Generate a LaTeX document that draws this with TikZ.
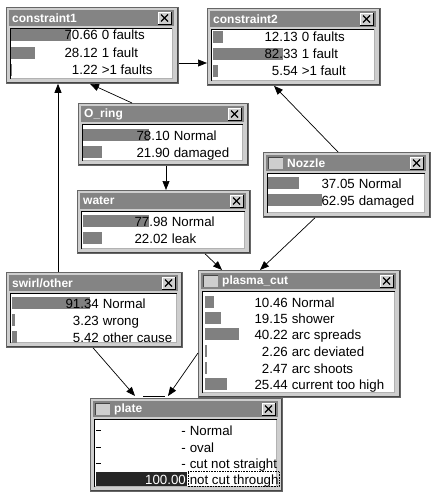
\documentclass[tikz,border=0pt]{standalone}
\usepackage{fontspec}
\setmainfont{Liberation Sans}
\usetikzlibrary{arrows.meta,calc}
\definecolor{frameg}{RGB}{206,206,206}
\definecolor{titleg}{RGB}{132,132,132}
\definecolor{barg}{RGB}{128,128,128}
\definecolor{darkedge}{RGB}{70,70,70}
\tikzset{
  conn/.style={draw=black, line width=0.7pt, -{Triangle[length=9pt,width=7pt]}},
  frame/.style={fill=frameg, draw=gray!80!black, line width=0.8pt, inner sep=0pt},
  titletext/.style={text=white, font=\fontsize{12}{13}\selectfont\bfseries, anchor=west, inner sep=0pt},
  rowtext/.style={font=\fontsize{13.3}{15}\selectfont, inner sep=0pt, text=black},
  shadeline/.style={draw=darkedge, line width=1.2pt},
}
\newcounter{rc}
\newcommand{\wbox}[7]{%
  \node[frame, anchor=north west, minimum width={#4pt-#2pt}, minimum height={#5pt-#3pt}] (#1) at (#2,#3) {};
  \draw[shadeline] (#2+1,#5-0.6) -- (#4-0.6,#5-0.6) -- (#4-0.6,#3+1);
  \fill[titleg] (#2+3,#3+3) rectangle (#4-4,#3+19);
  \ifnum#7=1
    \fill[frameg] (#2+5,#3+5) rectangle (#2+20,#3+17);
    \draw[darkedge, line width=0.8pt] (#2+5,#3+17) -- (#2+5,#3+5) -- (#2+20,#3+5);
    \node[titletext] (#1t) at (#2+24,#3+11) {#6};
  \else
    \node[titletext] (#1t) at (#2+6,#3+11) {#6};
  \fi
  \fill[frameg] (#4-20,#3+5) rectangle (#4-7,#3+17);
  \draw[white, line width=0.8pt] (#4-20,#3+17) -- (#4-20,#3+5) -- (#4-7,#3+5);
  \draw[black, line width=0.8pt] (#4-20,#3+17) -- (#4-7,#3+17) -- (#4-7,#3+5);
  \draw[black, line width=1.4pt] (#4-17,#3+7.5) -- (#4-10,#3+14.5) (#4-17,#3+14.5) -- (#4-10,#3+7.5);
  \fill[white] (#2+4,#3+21) rectangle (#4-5,#5-4);
  \draw[black, line width=1pt] (#2+4.5,#5-4) -- (#2+4.5,#3+21.5) -- (#4-5,#3+21.5);
  \draw[gray!60, line width=0.8pt] (#2+4.5,#5-4.4) -- (#4-5.4,#5-4.4) -- (#4-5.4,#3+21.5);
}
\newcommand{\brow}[5]{%
  \stepcounter{rc}%
  \fill[barg] (#3,#2-6) rectangle ({#3+max(#4*0.85,1.2)},#2+6);
  \node[rowtext, anchor=base east] (v\arabic{rc}) at (#1,#2+5) {#4};
  \node[rowtext, anchor=base west] (l\arabic{rc}) at (#1+3.6,#2+5) {#5};
}
\begin{document}
\begin{tikzpicture}[x=1pt,y=-1pt]
\fill[white] (0,0) rectangle (431,492);
\useasboundingbox (0,0) rectangle (431,492);

% constraint1
\wbox{c1}{6}{7}{178}{83}{constraint1}{0}
\brow{98}{35}{11}{70.66}{0 faults}
\brow{98}{53}{11}{28.12}{1 fault}
\brow{98}{70}{11}{1.22}{>1 faults}

% constraint2
\wbox{c2}{207}{8}{380}{85}{constraint2}{0}
\brow{298}{37}{213}{12.13}{0 faults}
\brow{298}{54}{213}{82.33}{1 fault}
\brow{298}{71}{213}{5.54}{>1 fault}

% O_ring
\wbox{oring}{78}{103}{248}{165}{O\_ring}{0}
\brow{170}{135}{83}{78.10}{Normal}
\brow{170}{152}{83}{21.90}{damaged}

% Nozzle
\wbox{nozzle}{263}{152}{430}{217}{Nozzle}{1}
\brow{355}{183}{268}{37.05}{Normal}
\brow{355}{200}{268}{62.95}{damaged}

% water
\wbox{water}{77}{190}{250}{253}{water}{0}
\brow{168}{221}{83}{77.98}{Normal}
\brow{168}{238}{83}{22.02}{leak}

% swirl/other
\wbox{swirl}{6}{272}{182}{347}{swirl/other}{0}
\brow{99}{303}{12}{91.34}{Normal}
\brow{99}{320}{12}{3.23}{wrong}
\brow{99}{337}{12}{5.42}{other cause}

% plasma_cut
\wbox{plasma}{198}{270}{400}{397}{plasma\_cut}{1}
\brow{288}{302}{205}{10.46}{Normal}
\brow{288}{318}{205}{19.15}{shower}
\brow{288}{334}{205}{40.22}{arc spreads}
\brow{288}{351}{205}{2.26}{arc deviated}
\brow{288}{368}{205}{2.47}{arc shoots}
\brow{288}{384}{205}{25.44}{current too high}

% plate
\wbox{plate}{90}{398}{282}{491}{plate}{1}
\draw[black, line width=0.8pt] (96,430) -- (101,430) (96,447) -- (101,447) (96,463) -- (101,463);
\node[rowtext, anchor=base east] (pv1) at (186,435) {-};
\node[rowtext, anchor=base west] (pl1) at (189.6,435) {Normal};
\node[rowtext, anchor=base east] (pv2) at (186,452) {-};
\node[rowtext, anchor=base west] (pl2) at (189.6,452) {oval};
\node[rowtext, anchor=base east] (pv3) at (186,468) {-};
\node[rowtext, anchor=base west] (pl3) at (189.6,468) {cut not straight};
\fill[black!85] (96,472) rectangle (187,486);
\node[rowtext, text=white, anchor=base east] (pv4) at (186,484) {100.00};
\node[rowtext, anchor=base west] (pl4) at (189.6,484) {not cut through};
\draw[black, densely dotted, line width=0.6pt] (188,471.5) rectangle (279,486.5);

% connectors
\draw[conn] ($(c1.north east)+(0,56)$) -- ($(c2.north west)+(0,55)$);
\draw[conn] ($(oring.north west)+(54,0)$) -- ($(c1.south west)+(84,0)$);
\draw[conn] ($(oring.south west)+(88,0)$) -- ($(water.north west)+(89,0)$);
\draw[conn] ($(nozzle.north west)+(75,0)$) -- ($(c2.south west)+(67,0)$);
\draw[conn] ($(nozzle.south west)+(52,0)$) -- ($(plasma.north west)+(62,0)$);
\draw[conn] ($(water.south west)+(128,0)$) -- ($(plasma.north west)+(24,0)$);
\draw[conn] ($(swirl.north west)+(52,0)$) -- ($(c1.south west)+(52,0)$);
\draw[conn] ($(swirl.south west)+(87,0)$) -- ($(plate.north west)+(45,-2)$);
\draw[conn] ($(plasma.north west)+(0,83)$) -- ($(plate.north west)+(78,-2)$);
\draw[black, line width=1pt] ($(plate.north west)+(53,-1.5)$) -- ($(plate.north west)+(75,-1.5)$);
\end{tikzpicture}
\end{document}
